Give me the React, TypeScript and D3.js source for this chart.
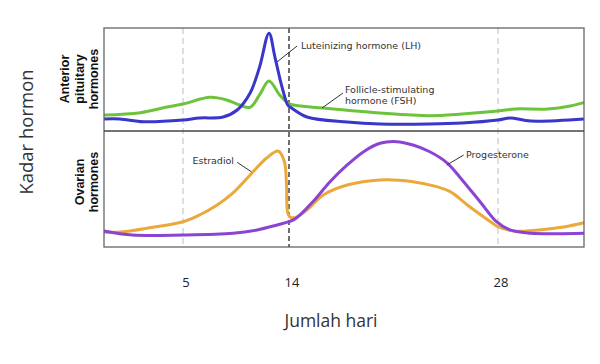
import { useEffect, useRef } from "react"
import * as d3 from "d3"

// cycle days -> hormone level (0..100 inside each panel)
const lhDays = [0, 1, 2.5, 5, 6.4, 8.4, 9.6, 10.7, 11.5, 12.3, 12.8, 13.4, 13.9, 14.1, 15.2, 17.9, 20.1, 23.4, 25.6, 28, 28.7, 29.9, 33]
const lhValues = [11.7, 11.7, 9, 10.7, 12.6, 13.6, 20.4, 36.9, 62, 95, 72, 43, 25, 23, 13.6, 8.7, 6.8, 6.8, 7.8, 10.7, 12.6, 9.7, 11.7]

const fshDays = [0, 2.3, 4, 5, 7.3, 8.7, 9.8, 10.7, 11.5, 12.3, 13.2, 13.9, 14.3, 16.3, 20.1, 23.4, 25.6, 28, 29, 30.9, 32.2, 33]
const fshValues = [15.5, 17.8, 23.3, 26.2, 32.7, 30.1, 25.2, 23, 35, 48.5, 35, 27.2, 25.2, 22.3, 17.5, 14.9, 16.5, 19.4, 21.4, 21.4, 24.3, 27.5]

const estradiolDays = [0, 1, 2.9, 5, 6.4, 7.9, 9.25, 10.7, 12.1, 13.07, 13.6, 13.78, 13.88, 14.05, 14.4, 15.2, 16.3, 17.9, 20.1, 22.3, 23.9, 24.8, 26.1, 27.5, 28, 28.9, 30.9, 32.2, 33]
const estradiolValues = [12.7, 12.9, 16.6, 21.8, 27.6, 36.2, 46.6, 62.1, 76.7, 82.8, 74, 55, 30, 26, 25.3, 31.9, 44.8, 53.4, 57.8, 56.3, 52, 47.7, 34.7, 21.8, 17.5, 13.8, 15.5, 18.4, 20.9]

const progesteroneDays = [0, 1.8, 5, 9.25, 11.3, 13, 14, 14.5, 15.6, 16.75, 17.9, 19, 20.1, 21.2, 22.3, 23.4, 24.6, 25.6, 26.8, 27.9, 28.7, 29.9, 33]
const progesteroneValues = [13.8, 10.3, 10.3, 11.8, 14.7, 19, 21.8, 25, 39, 56.3, 70.7, 82.2, 89.4, 90.8, 87.9, 82.3, 72.4, 57.8, 39, 21.8, 14.7, 11.8, 11.8]

const tickDays = [5, 14, 28]
const ovulationDay = 14

type Pt = [number, number]
const zip = (a: number[], b: number[]): Pt[] => a.map((d, i) => [d, b[i]])

export default function App() {
  const svgRef = useRef<SVGSVGElement | null>(null)

  useEffect(() => {
    if (!svgRef.current) return
    const svg = d3.select(svgRef.current)
    svg.selectAll("*").remove()

    const left = 104, right = 584, top = 28, mid = 131, bottom = 247

    // the figure's day axis is not evenly spaced
    const x = d3.scaleLinear().domain([0, 5, 14, 28, 33]).range([left, 183, 289, 498, right])
    const yTop = d3.scaleLinear().domain([0, 100]).range([mid, top])
    const yBot = d3.scaleLinear().domain([0, 100]).range([bottom, mid])

    // reference lines
    tickDays.forEach(d => {
      const isOv = d === ovulationDay
      svg.append("line")
        .attr("x1", x(d)).attr("x2", x(d))
        .attr("y1", top).attr("y2", bottom)
        .attr("stroke", isOv ? "#222" : "#c9c9c9")
        .attr("stroke-width", isOv ? 1.3 : 1.2)
        .attr("stroke-dasharray", isOv ? "5,3" : "6,4")
    })

    const series = [
      { data: zip(fshDays, fshValues), y: yTop, color: "#6dc33c" },
      { data: zip(lhDays, lhValues), y: yTop, color: "#3a36c9" },
      { data: zip(estradiolDays, estradiolValues), y: yBot, color: "#eba83b" },
      { data: zip(progesteroneDays, progesteroneValues), y: yBot, color: "#8a44d4" },
    ]
    series.forEach(s => {
      const line = d3.line<Pt>()
        .x(d => x(d[0]))
        .y(d => s.y(d[1]))
        .curve(d3.curveCatmullRom.alpha(0.5))
      svg.append("path")
        .datum(s.data)
        .attr("fill", "none")
        .attr("stroke", s.color)
        .attr("stroke-width", 3)
        .attr("stroke-linejoin", "round")
        .attr("d", line)
    })

    // frame
    svg.append("rect")
      .attr("x", left).attr("y", top)
      .attr("width", right - left).attr("height", bottom - top)
      .attr("fill", "none").attr("stroke", "#666").attr("stroke-width", 1.3)
    svg.append("line")
      .attr("x1", left).attr("x2", right).attr("y1", mid).attr("y2", mid)
      .attr("stroke", "#444").attr("stroke-width", 1.3)

    // annotations
    const note = (txt: string, px: number, py: number, anchor = "start") =>
      svg.append("text").attr("x", px).attr("y", py)
        .attr("text-anchor", anchor)
        .attr("font-family", "DejaVu Sans, Verdana, sans-serif")
        .attr("font-size", 9.5).attr("fill", "#333").text(txt)
    const leader = (x1: number, y1: number, x2: number, y2: number) =>
      svg.append("line").attr("x1", x1).attr("y1", y1).attr("x2", x2).attr("y2", y2)
        .attr("stroke", "#333").attr("stroke-width", 1)

    leader(x(12.98), yTop(67), x(14.54), yTop(82.5))
    note("Luteinizing hormone (LH)", x(14.8), yTop(79.6))
    leader(x(16.21), yTop(22.3), x(17.62), yTop(36.9))
    note("Follicle-stimulating", x(17.75), yTop(36.9))
    note("hormone (FSH)", x(17.75), yTop(36.9) + 11)
    leader(x(9.6), yBot(73), x(10.8), yBot(64.9))
    note("Estradiol", x(9.33), yBot(71.6), "end")
    leader(x(24.57), yBot(70.7), x(25.7), yBot(79.3))
    note("Progesterone", x(25.86), yBot(76.7))

    // panel labels
    const panelLabel = (lines: string[], cy: number) => {
      const n = lines.length
      lines.forEach((t, i) => {
        const cx = 94 - (n - 1 - i) * 14.5
        svg.append("text")
          .attr("transform", `translate(${cx},${cy}) rotate(-90)`)
          .attr("text-anchor", "middle").attr("dy", "0.35em")
          .attr("font-family", "Liberation Sans, Arial, sans-serif")
          .attr("font-weight", "bold").attr("font-size", 12.5).attr("fill", "#111")
          .text(t)
      })
    }
    panelLabel(["Anterior", "pituitary", "hormones"], 79)
    panelLabel(["Ovarian", "hormones"], 182)

    // y title
    svg.append("text")
      .attr("transform", `translate(27,${132}) rotate(-90)`)
      .attr("text-anchor", "middle").attr("dy", "0.35em")
      .attr("font-family", "Open Sans, sans-serif").attr("font-size", 18.5).attr("fill", "#333")
      .text("Kadar hormon")

    // x axis (labels only)
    const axis = svg.append("g")
      .attr("transform", `translate(2.5,${275})`)
      .call(d3.axisBottom(x).tickValues(tickDays).tickSize(0).tickFormat(d3.format("d")))
    axis.select(".domain").remove()
    axis.selectAll("text")
      .attr("font-family", "Open Sans, sans-serif").attr("font-size", 13).attr("fill", "#222")

    svg.append("text")
      .attr("x", 331).attr("y", 321).attr("dy", "0.35em")
      .attr("text-anchor", "middle")
      .attr("font-family", "Open Sans, sans-serif").attr("font-size", 17.5).attr("fill", "#333")
      .text("Jumlah hari")
  }, [])

  return (
    <svg ref={svgRef} width={600} height={364}
      style={{ position: "absolute", left: 0, top: 0, background: "#fff" }} />
  )
}
